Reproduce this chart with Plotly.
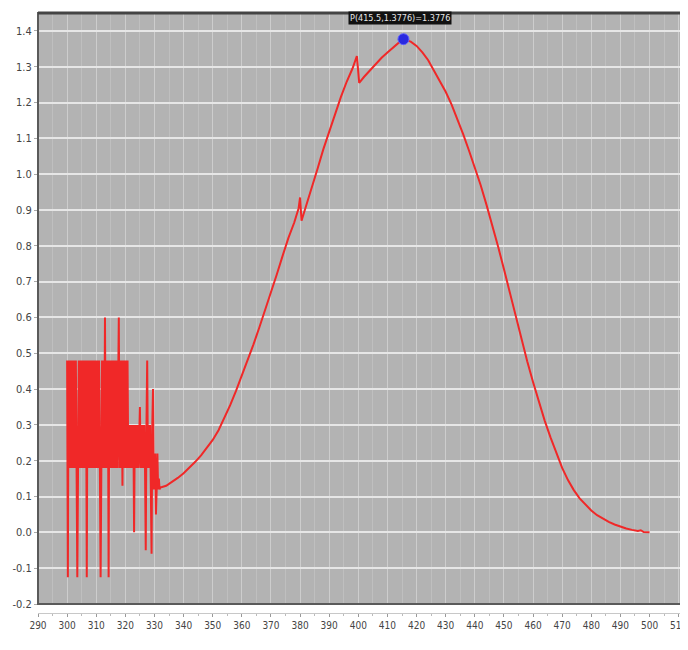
import plotly.graph_objects as go

# Noisy start of the spectrum (nm, absorbance), 0.25 nm sampling
noise_x = [300.0, 300.25, 300.5, 300.75, 301.0, 301.25, 301.5, 301.75,
           302.0, 302.25, 302.5, 302.75, 303.0, 303.25, 303.5, 303.75,
           304.0, 304.25, 304.5, 304.75, 305.0, 305.25, 305.5, 305.75,
           306.0, 306.25, 306.5, 306.75, 307.0, 307.25, 307.5, 307.75,
           308.0, 308.25, 308.5, 308.75, 309.0, 309.25, 309.5, 309.75,
           310.0, 310.25, 310.5, 310.75, 311.0, 311.25, 311.5, 311.75,
           312.0, 312.25, 312.5, 312.75, 313.0, 313.25, 313.5, 313.75,
           314.0, 314.25, 314.5, 314.75, 315.0, 315.25, 315.5, 315.75,
           316.0, 316.25, 316.5, 316.75, 317.0, 317.25, 317.5, 317.75,
           318.0, 318.25, 318.5, 318.75, 319.0, 319.25, 319.5, 319.75,
           320.0, 320.25, 320.5, 320.75, 321.0, 321.25, 321.5, 321.75,
           322.0, 322.25, 322.5, 322.75, 323.0, 323.25, 323.5, 323.75,
           324.0, 324.25, 324.5, 324.75, 325.0, 325.25, 325.5, 325.75,
           326.0, 326.25, 326.5, 326.75, 327.0, 327.25, 327.5, 327.75,
           328.0, 328.25, 328.5, 328.75, 329.0, 329.25, 329.5, 329.75,
           330.0, 330.25, 330.5, 330.75, 331.0, 331.25, 331.5, 331.75]
noise_y = [0.48, -0.125, 0.48, 0.18, 0.48, 0.18, 0.48, 0.18,
           0.48, 0.18, 0.48, 0.18, 0.48, 0.18, -0.125, 0.18,
           0.48, 0.18, 0.48, 0.18, 0.48, 0.18, 0.48, 0.18,
           0.48, 0.18, 0.48, -0.125, 0.48, 0.18, 0.48, 0.18,
           0.48, 0.18, 0.48, 0.18, 0.48, 0.18, 0.48, 0.18,
           0.48, 0.18, 0.48, 0.18, 0.48, 0.18, -0.125, 0.18,
           0.48, 0.18, 0.48, 0.18, 0.60, 0.18, 0.48, 0.18,
           0.48, -0.125, 0.48, 0.18, 0.48, 0.18, 0.48, 0.18,
           0.48, 0.18, 0.48, 0.18, 0.48, 0.18, 0.48, 0.60,
           0.18, 0.48, 0.18, 0.48, 0.13, 0.48, 0.18, 0.48,
           0.18, 0.48, 0.18, 0.48, 0.18, 0.30, 0.18, 0.30,
           0.18, 0.30, 0.18, 0.30, 0.00, 0.30, 0.18, 0.30,
           0.18, 0.30, 0.18, 0.30, 0.35, 0.18, 0.30, 0.18,
           0.30, 0.18, 0.30, 0.18, -0.05, 0.30, 0.48, 0.18,
           0.30, 0.18, 0.30, 0.12, -0.06, 0.30, 0.40, 0.12,
           0.15, 0.22, 0.05, 0.12, 0.22, 0.12, 0.15, 0.12]

# Smooth part of the spectrum
smooth_x = [332, 334, 336, 338, 340, 342, 344, 346, 348, 350,
            352, 354, 356, 358, 360, 362, 364, 366, 368, 370,
            372, 374, 376, 378, 379.5, 380, 380.5, 382, 384, 386,
            388, 390, 392, 394, 396, 398, 399.5, 400.3, 402, 404,
            406, 408, 410, 412, 414, 416, 418, 420, 422, 424,
            426, 428, 430, 432, 434, 436, 438, 440, 442, 444,
            446, 448, 450, 452, 454, 456, 458, 460, 462, 464,
            466, 468, 470, 472, 474, 476, 478, 480, 482, 484,
            486, 488, 490, 492, 494, 496, 497, 498, 500]
smooth_y = [0.125, 0.130, 0.140, 0.152, 0.165, 0.180, 0.197, 0.215, 0.235, 0.258,
            0.285, 0.318, 0.355, 0.395, 0.437, 0.480, 0.525, 0.572, 0.620, 0.670,
            0.720, 0.772, 0.822, 0.865, 0.905, 0.935, 0.870, 0.910, 0.960, 1.015,
            1.070, 1.120, 1.170, 1.215, 1.258, 1.295, 1.330, 1.255, 1.272, 1.290,
            1.308, 1.325, 1.340, 1.355, 1.368, 1.375, 1.370, 1.358, 1.340, 1.318,
            1.290, 1.262, 1.230, 1.195, 1.155, 1.112, 1.066, 1.020, 0.970, 0.915,
            0.858, 0.798, 0.735, 0.670, 0.605, 0.540, 0.478, 0.420, 0.365, 0.312,
            0.265, 0.220, 0.180, 0.146, 0.118, 0.095, 0.077, 0.061, 0.048, 0.038,
            0.029, 0.022, 0.016, 0.011, 0.007, 0.004, 0.006, 0.001, 0.000]

peak_x = [415.5]
peak_y = [1.377]
peak_label = "P(415.5,1.3776)=1.3776"

x_ticks = list(range(290, 511, 10))
y_ticks = [-0.2, -0.1, 0.0, 0.1, 0.2, 0.3, 0.4, 0.5, 0.6, 0.7, 0.8,
           0.9, 1.0, 1.1, 1.2, 1.3, 1.4]

FONT = "DejaVu Sans Condensed, Liberation Sans Narrow, Arial Narrow, sans-serif"
RED = "#f02828"

fig = go.Figure()
fig.add_trace(go.Scatter(x=noise_x + smooth_x, y=noise_y + smooth_y, mode="lines",
                         line=dict(color=RED, width=2), hoverinfo="skip",
                         showlegend=False))
fig.add_trace(go.Scatter(x=peak_x, y=peak_y, mode="markers",
                         marker=dict(color="#2a2ae0", size=11, symbol="circle",
                                     line=dict(color="#6060ff", width=1)),
                         showlegend=False))
fig.add_annotation(x=peak_x[0] - 1.2, y=1.437, xref="x", yref="y", text=peak_label,
                   showarrow=False, bgcolor="#111111",
                   font=dict(color="#e8e8e8", size=9, family=FONT), borderpad=1)

fig.update_layout(
    width=680, height=634,
    margin=dict(l=30, r=5, t=5, b=29),
    paper_bgcolor="white", plot_bgcolor="#b3b3b3",
    font=dict(family=FONT, size=11, color="#444444"),
    xaxis=dict(range=[290, 511.5], tickvals=x_ticks, ticktext=[str(v) for v in x_ticks],
               automargin=False, ticklabeloverflow="allow",
               showgrid=True, gridcolor="#cdcdcd", gridwidth=1,
               minor=dict(dtick=5, showgrid=True, gridcolor="#bfbfbf", gridwidth=1,
                          ticks="outside", ticklen=2, tickcolor="#bbbbbb"),
               anchor="free", position=0, showline=True, linecolor="#c8c8c8",
               linewidth=1, ticks="outside", ticklen=3, tickcolor="#999999",
               zeroline=False, tickfont=dict(size=10, color="#444444")),
    yaxis=dict(range=[-0.2, 1.45], domain=[0.015, 1], tickvals=y_ticks,
               ticktext=[f"{v:.1f}" for v in y_ticks], automargin=False,
               showgrid=True, gridcolor="#e6e6e6", gridwidth=2,
               zeroline=False, ticks="outside", ticklen=3, tickcolor="#aaaaaa",
               tickfont=dict(size=11, color="#444444")),
)

fig.add_shape(type="rect", xref="x domain", yref="y domain", x0=0, x1=1, y0=0, y1=1,
              line=dict(color="#5a5a5a", width=2))
fig.add_shape(type="line", xref="x domain", yref="y domain", x0=0, x1=1, y0=1, y1=1,
              line=dict(color="#444444", width=3))

fig.write_html("out.html")
